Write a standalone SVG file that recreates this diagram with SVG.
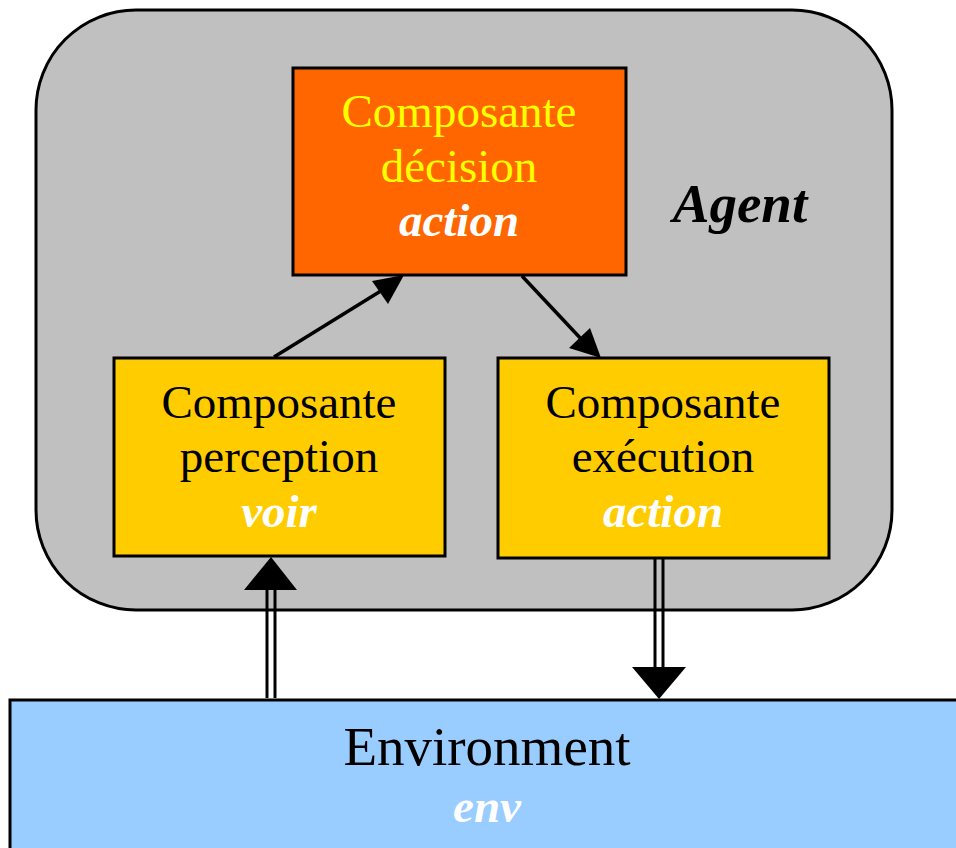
<svg xmlns="http://www.w3.org/2000/svg" width="956" height="848" viewBox="0 0 956 848">
<defs>
<style>
.box{stroke:#000;stroke-width:3}
.t{font-family:"Liberation Serif","Times New Roman",serif;font-size:47px;text-anchor:middle}
.bi{font-weight:bold;font-style:italic;fill:#fff}
.ln{stroke:#000;stroke-width:3;fill:none}
.dg{stroke-width:3.5}
</style>
</defs>
<g id="agent">
<rect x="36" y="10" width="856" height="600" rx="100" ry="100" fill="#c0c0c0" class="box"/>
<text x="740" y="222" class="t" style="font-size:55px;font-weight:bold;font-style:italic">Agent</text>
</g>
<g id="environment">
<rect x="10" y="700" width="960" height="160" fill="#99ccff" class="box"/>
<text x="487" y="765" class="t" style="font-size:55px">Environment</text>
<text x="487" y="822" class="t bi">env</text>
</g>
<g id="decision">
<rect x="293" y="68" width="333" height="207" fill="#ff6600" class="box"/>
<text x="459" y="127" class="t" fill="#ffff00">Composante</text>
<text x="459" y="182" class="t" fill="#ffff00">décision</text>
<text x="459" y="236" class="t bi">action</text>
</g>
<g id="perception">
<rect x="114" y="358" width="331" height="198" fill="#ffcc00" class="box"/>
<text x="279" y="418" class="t">Composante</text>
<text x="279" y="472" class="t">perception</text>
<text x="279" y="527" class="t bi">voir</text>
</g>
<g id="execution">
<rect x="498" y="358" width="331" height="200" fill="#ffcc00" class="box"/>
<text x="663" y="418" class="t">Composante</text>
<text x="663" y="472" class="t">exécution</text>
<text x="663" y="527" class="t bi">action</text>
</g>
<g id="connectors">
<line x1="274" y1="357" x2="384" y2="289" class="ln dg"/>
<path d="M404,275 L388,304 L372,281 z" fill="#000"/>
<line x1="522" y1="276" x2="583" y2="341" class="ln dg"/>
<path d="M601,358 L569,348 L590,328 z" fill="#000"/>
<line x1="267" y1="698" x2="267" y2="589" class="ln"/>
<line x1="275" y1="698" x2="275" y2="589" class="ln"/>
<path d="M271,557 L297,590 L244,590 z" fill="#000"/>
<line x1="655" y1="558" x2="655" y2="668" class="ln"/>
<line x1="663" y1="558" x2="663" y2="668" class="ln"/>
<path d="M659,699 L632,667 L686,667 z" fill="#000"/>
</g>
</svg>
